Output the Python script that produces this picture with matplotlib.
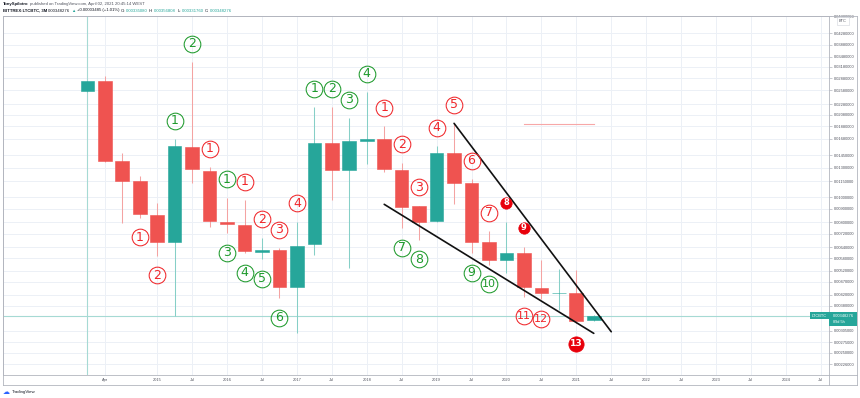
import matplotlib
matplotlib.use("Agg")
import matplotlib.pyplot as plt
import matplotlib.transforms as mtransforms
from matplotlib.lines import Line2D
from matplotlib.patches import Rectangle

plt.rcParams['font.family'] = ['Liberation Sans', 'DejaVu Sans']

# ---------------- data (quarterly candles, LTC/BTC) ----------------
quarters = ["2014-01", "2014-04", "2014-07", "2014-10", "2015-01", "2015-04", "2015-07", "2015-10",
            "2016-01", "2016-04", "2016-07", "2016-10", "2017-01", "2017-04", "2017-07", "2017-10",
            "2018-01", "2018-04", "2018-07", "2018-10", "2019-01", "2019-04", "2019-07", "2019-10",
            "2020-01", "2020-04", "2020-07", "2020-10", "2021-01", "2021-04"]
opens = [0.02559, 0.02812, 0.01373, 0.01153, 0.00850, 0.00669, 0.01555, 0.01264,
         0.00801, 0.00782, 0.00615, 0.00624, 0.00448, 0.00657, 0.01621, 0.01272,
         0.01641, 0.01679, 0.01272, 0.00923, 0.00806, 0.01475, 0.01133, 0.00670,
         0.00571, 0.00606, 0.00447, 0.00425, 0.00426, 0.00335080]
highs = [0.02815, 0.02933, 0.01475, 0.01205, 0.00946, 0.01675, 0.03312, 0.01302,
         0.00994, 0.00974, 0.00695, 0.00635, 0.00803, 0.02220, 0.02220, 0.02013,
         0.02537, 0.01880, 0.01356, 0.00925, 0.01574, 0.01925, 0.01170, 0.00739,
         0.00803, 0.00643, 0.00571, 0.00526, 0.00523, 0.00350]
lows = [0.02555, 0.01370, 0.00796, 0.00830, 0.00593, 0.00347, 0.01136, 0.00768,
        0.00724, 0.00606, 0.00575, 0.00406, 0.00299, 0.00597, 0.00974, 0.00530,
        0.01337, 0.01246, 0.00757, 0.00682, 0.00800, 0.00937, 0.00606, 0.00546,
        0.00509, 0.00412, 0.00403, 0.00366, 0.00326, 0.00331760]
closes = [0.02812, 0.01373, 0.01153, 0.00860, 0.00669, 0.01569, 0.01279, 0.00808,
          0.00785, 0.00620, 0.00624, 0.00448, 0.00645, 0.01621, 0.01268, 0.01641,
          0.01670, 0.01279, 0.00917, 0.00803, 0.01475, 0.01133, 0.00672, 0.00571,
          0.00606, 0.00448, 0.00426, 0.00427, 0.00333, 0.00348276]

# TD sequential style counts (candle index, number, kind) ; g=green, r=red, R=filled red
above_idx = [5, 6, 7, 8, 9, 10, 11, 12, 13, 14, 15, 16, 17, 18, 19, 20, 21, 22, 23, 24, 25]
above_txt = ['1', '2', '1', '1', '1', '2', '3', '4', '1', '2', '3', '4', '1', '2', '3', '4', '5', '6', '7', '8', '9']
above_kind = ['g', 'g', 'r', 'g', 'r', 'r', 'r', 'r', 'g', 'g', 'g', 'g', 'r', 'r', 'r', 'r', 'r', 'r', 'r', 'R', 'R']
below_idx = [3, 4, 8, 9, 10, 11, 18, 19, 22, 23, 25, 26, 28]
below_txt = ['1', '2', '3', '4', '5', '6', '7', '8', '9', '10', '11', '12', '13']
below_kind = ['r', 'r', 'g', 'g', 'g', 'g', 'g', 'g', 'g', 'g', 'r', 'r', 'R']

# drawings (candle index, price)
upper_trend_x = [21, 30]
upper_trend_y = [0.01925, 0.003019]
lower_trend_x = [17, 29]
lower_trend_y = [0.009372, 0.002976]
pink_line_x = [25, 29]
pink_line_y = [0.01914, 0.01914]
last_price = 0.00348276

# axis ticks
price_ticks = [0.0498, 0.0428, 0.0388, 0.0348, 0.0318, 0.0288, 0.0258, 0.0228, 0.0208, 0.0188,
               0.0168, 0.0145, 0.0130, 0.0115, 0.0100, 0.0090, 0.0080, 0.0072, 0.0064, 0.0058,
               0.0052, 0.0047, 0.0042, 0.0038, 0.00305, 0.00275, 0.0025, 0.00226]
time_ticks = ["2014-04", "2015-01", "2015-07", "2016-01", "2016-07", "2017-01", "2017-07",
              "2018-01", "2018-07", "2019-01", "2019-07", "2020-01", "2020-07", "2021-01",
              "2021-07", "2022-01", "2022-07", "2023-01", "2023-07", "2024-01", "2024-07"]

# ---------------- figure ----------------
W, H = 860, 398
fig = plt.figure(figsize=(W / 100, H / 100), dpi=100)
fig.patch.set_facecolor('white')


def fx(px):
    return px / W


def fy(py):
    return 1 - py / H


L, R, T, B = 3, 829, 16, 375
ax = fig.add_axes([fx(L), fy(B), (R - L) / W, (B - T) / H])
ax.set_yscale('log')
ax.set_ylim(0.002055, 0.05)
ax.set_xlim(-4.83, 42.47)
ax.set_facecolor('white')

frame_col = '#b2b5be'
for s in ax.spines.values():
    s.set_color(frame_col)
    s.set_linewidth(0.6)


def q_index(q):
    y, m = q.split('-')
    return (int(y) - 2014) * 4 + (int(m) - 1) // 3


months = {4: 'Apr', 7: 'Jul', 10: 'Oct'}
xt = [q_index(q) for q in time_ticks]
xl = [q.split('-')[0] if int(q.split('-')[1]) == 1 else months[int(q.split('-')[1])] for q in time_ticks]
ax.set_xticks(xt)
ax.set_xticklabels(xl)
ax.yaxis.set_minor_locator(matplotlib.ticker.NullLocator())
ax.set_yticks(price_ticks)
ax.set_yticklabels(['%.8f' % p for p in price_ticks])
ax.yaxis.tick_right()
ax.tick_params(axis='y', which='major', length=2.2, width=0.5, color=frame_col, pad=1.2,
               labelsize=2.9, labelcolor='#50535e')
ax.tick_params(axis='x', which='major', length=0, pad=2.3, labelsize=2.9, labelcolor='#50535e')
ax.grid(True, which='major', color='#ecf0f6', linewidth=0.7, zorder=0)
ax.set_axisbelow(True)

# candles
teal = '#26a69a'
redc = '#ef5350'
xs = list(range(len(quarters)))
body_cols, wick_cols, bottoms, heights = [], [], [], []
for o, c in zip(opens, closes):
    up = c >= o
    body_cols.append(teal if up else redc)
    wick_cols.append('#86cfc7' if up else '#f4a3a2')
    bottoms.append(min(o, c))
    heights.append(abs(c - o))

ax.axvline(0, color='#a6dad4', linewidth=0.8, zorder=1)
ax.axhline(last_price, color='#a6dad4', linewidth=0.8, zorder=1)

ax.vlines(xs, lows, highs, colors=wick_cols, linewidth=0.75, zorder=2)
ax.bar(xs, heights, bottom=bottoms, width=0.78, color=body_cols, edgecolor=body_cols,
       linewidth=0.4, zorder=3)

# trend lines
ax.plot(upper_trend_x, upper_trend_y, color='#111111', linewidth=1.2, zorder=4,
        solid_capstyle='round')
ax.plot(lower_trend_x, lower_trend_y, color='#111111', linewidth=1.2, zorder=4,
        solid_capstyle='round')
ax.plot(pink_line_x, pink_line_y, color='#f7a7a7', linewidth=0.8, zorder=4)

# circled counts
green = '#1e9a2c'
red = '#f0262a'
fill_red = '#e8000b'


def draw_label(i, txt, kind, above):
    price = highs[i] if above else lows[i]
    if kind == 'R':
        off = 13.6 if above else -14.8
    else:
        off = 13.3 if above else -13.9
    tr = mtransforms.offset_copy(ax.transData, fig=fig, x=0, y=off, units='points')
    if kind == 'R':
        size = 8.2 if above else 11.0
        fs = 6.0 if len(txt) == 1 else 6.6
        ax.plot([i], [price], marker='o', ms=size, mfc=fill_red, mec=fill_red, mew=0.5,
                transform=tr, clip_on=False, zorder=6, linestyle='none')
        ax.text(i, price, txt, transform=tr, ha='center', va='center', color='white',
                fontsize=fs, fontweight='bold', zorder=7,
                family=['Liberation Sans Narrow', 'DejaVu Sans'] if len(txt) > 1 else ['DejaVu Sans'])
    else:
        col = green if kind == 'g' else red
        ax.plot([i], [price], marker='o', ms=12.0, mfc='none', mec=col, mew=0.75,
                transform=tr, clip_on=False, zorder=6, linestyle='none')
        if len(txt) == 1:
            ax.text(i, price, txt, transform=tr, ha='center', va='center', color=col,
                    fontsize=9.0, zorder=7, family=['DejaVu Sans'])
        else:
            ax.text(i, price, txt, transform=tr, ha='center', va='center', color=col,
                    fontsize=8.0, zorder=7, family=['Liberation Sans Narrow', 'DejaVu Sans'])


for i, t, k in zip(above_idx, above_txt, above_kind):
    draw_label(i, t, k, True)
for i, t, k in zip(below_idx, below_txt, below_kind):
    draw_label(i, t, k, False)


# ---------------- chrome around the chart ----------------
def fline(x0, y0, x1, y1, col=frame_col, lw=0.6):
    fig.add_artist(Line2D([fx(x0), fx(x1)], [fy(y0), fy(y1)], transform=fig.transFigure,
                          color=col, linewidth=lw))


fline(3, 16, 857, 16)
fline(3, 16, 3, 385)
fline(3, 385, 857, 385)
fline(857, 16, 857, 385)
fline(829, 375, 829, 385)
fline(829, 375, 857, 375)

# BTC unit box
fig.add_artist(Rectangle((fx(837), fy(25)), (849 - 837) / W, 8 / H, transform=fig.transFigure,
                         facecolor='white', edgecolor='#d1d4dc', linewidth=0.4))
fig.text(fx(843), fy(21), 'BTC', fontsize=2.8, color='#50535e', ha='center', va='center')

# last price tags
ly = ax.transData.transform((0, last_price))[1]
ly_px = H - ly
fig.add_artist(Rectangle((fx(810), fy(ly_px + 3.2)), 19 / W, 6.4 / H, transform=fig.transFigure,
                         facecolor=teal, edgecolor='none'))
fig.text(fx(819.5), fy(ly_px), 'LTCBTC', fontsize=2.8, color='white', ha='center', va='center')
fig.add_artist(Rectangle((fx(829), fy(ly_px + 10)), 28 / W, 13.2 / H, transform=fig.transFigure,
                         facecolor=teal, edgecolor='none'))
fig.text(fx(833), fy(ly_px), '0.00348276', fontsize=2.9, color='white', ha='left', va='center')
fig.text(fx(833), fy(ly_px + 6), '89d 5h', fontsize=2.8, color='white', ha='left', va='center')

# header
renderer = fig.canvas.get_renderer()


def chain(y, pieces, x0=3, fs=3.05):
    x = x0
    for txt, col, wt in pieces:
        t = fig.text(fx(x), fy(y), txt, fontsize=fs, color=col, fontweight=wt,
                     ha='left', va='center')
        bb = t.get_window_extent(renderer=renderer)
        x += bb.width + 1.1


chain(4, [('TonySpilotro', '#131722', 'bold'),
          ('published on TradingView.com, April 02, 2021 20:45:14 WEST', '#50535e', 'normal')])
chain(10.5, [('BITTREX:LTCBTC, 3M', '#131722', 'bold'),
             ('0.00348276', '#131722', 'normal'),
             ('\u25b2', teal, 'normal'),
             ('+0.00003485 (+1.01%)', '#131722', 'normal'),
             ('O:', '#131722', 'normal'), ('0.00335080', teal, 'normal'),
             ('H:', '#131722', 'normal'), ('0.00356808', teal, 'normal'),
             ('L:', '#131722', 'normal'), ('0.00331760', teal, 'normal'),
             ('C:', '#131722', 'normal'), ('0.00348276', teal, 'normal')])

# TradingView footer
fig.text(fx(6), fy(392), '\u2601', fontsize=5, color='#2962ff', ha='center', va='center',
         family=['DejaVu Sans'])
fig.text(fx(11.5), fy(392), 'TradingView', fontsize=3.2, color='#131722', ha='left', va='center')

fig.savefig('out.png', dpi=100, facecolor='white')
